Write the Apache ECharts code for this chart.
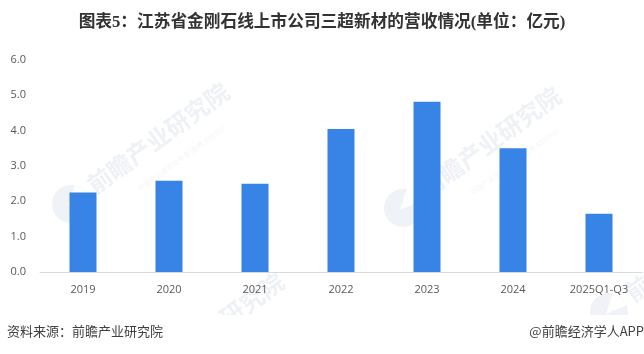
<!DOCTYPE html>
<html>
<head>
<meta charset="utf-8">
<style>
  html, body { margin: 0; padding: 0; background: #fff; }
  #chart { width: 644px; height: 354px; }
</style>
<script src="https://cdn.jsdelivr.net/npm/echarts@6/dist/echarts.min.js"></script>
</head>
<body>
<div id="chart"></div>
<script>
const categories = ['2019', '2020', '2021', '2022', '2023', '2024', '2025Q1-Q3']
const revenue = [2.25, 2.58, 2.5, 4.05, 4.82, 3.5, 1.65]

const cjk = '"Noto Sans CJK SC", sans-serif'
const markAngle = Math.PI / 5

// pale diagonal company watermark, placed by its round logo
function watermark(cx, cy) {
  return [
    {
      type: 'circle',
      z: -3,
      shape: { cx: cx, cy: cy, r: 19 },
      style: { fill: '#eff2f6' }
    },
    {
      type: 'polygon',
      z: -3,
      shape: { points: [[cx - 3, cy + 2], [cx + 4, cy - 20], [cx + 20, cy - 8]] },
      style: { fill: '#fff' }
    },
    {
      type: 'text',
      z: -3,
      x: cx + 87,
      y: cy - 66,
      rotation: markAngle,
      style: {
        text: '前瞻产业研究院',
        fill: '#eef1f5',
        font: 'bold 24px ' + cjk,
        align: 'center',
        verticalAlign: 'middle'
      }
    },
    {
      type: 'text',
      z: -3,
      x: cx + 111,
      y: cy - 46,
      rotation: markAngle,
      style: {
        text: '中国产业咨询领导者(股票:839599)',
        fill: '#f3f5f8',
        font: '7px ' + cjk,
        align: 'center',
        verticalAlign: 'middle'
      }
    }
  ]
}

const chart = echarts.init(document.getElementById('chart'))
chart.setOption({
  animation: false,
  backgroundColor: '#fff',
  title: {
    text: '图表5：江苏省金刚石线上市公司三超新材的营收情况(单位：亿元)',
    left: 'center',
    top: 9,
    textStyle: {
      color: '#333',
      fontSize: 16.7,
      fontWeight: 'bold',
      fontFamily: '"Liberation Serif", ' + cjk
    }
  },
  grid: { left: 40, right: 2, top: 60, bottom: 82 },
  xAxis: {
    type: 'category',
    data: categories,
    axisTick: { show: false },
    axisLine: { lineStyle: { color: '#d9d9d9', width: 1 } },
    axisLabel: {
      color: '#595959',
      fontSize: 11,
      margin: 12,
      interval: 0,
      fontFamily: '"Open Sans", sans-serif'
    }
  },
  yAxis: {
    type: 'value',
    min: 0,
    max: 6,
    interval: 1,
    splitLine: { show: false },
    axisLine: { show: false },
    axisTick: { show: false },
    axisLabel: {
      color: '#595959',
      fontSize: 11,
      margin: 14,
      fontFamily: '"Open Sans", sans-serif',
      formatter: (value) => value.toFixed(1)
    }
  },
  series: [
    {
      type: 'bar',
      data: revenue,
      barWidth: 27,
      itemStyle: { color: '#3783e6' }
    }
  ],
  graphic: [
    ...watermark(71, 204),
    ...watermark(403, 208),
    ...watermark(609, 312),
    ...watermark(126, 394),
    // the watermark layer stops above the footer
    {
      type: 'rect',
      z: -2,
      shape: { x: 0, y: 315, width: 644, height: 39 },
      style: { fill: '#fff' }
    },
    {
      type: 'text',
      left: 7,
      top: 325,
      style: {
        text: '资料来源：前瞻产业研究院',
        fill: '#404040',
        font: '13px ' + cjk
      }
    },
    {
      type: 'text',
      right: 0,
      top: 325,
      style: {
        text: '@前瞻经济学人APP',
        fill: '#404040',
        font: '13px ' + cjk
      }
    }
  ]
})
</script>
</body>
</html>
